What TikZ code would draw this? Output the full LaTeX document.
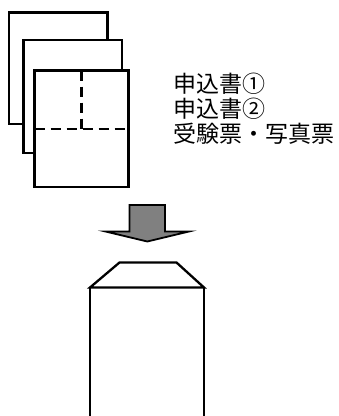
\documentclass[tikz,border=0pt]{standalone}
\usepackage{fontspec}
\newfontfamily\cjk{Noto Sans CJK JP}
\usepackage{tikz}
\usetikzlibrary{
    calc,
    positioning
}

\begin{document}
\begin{tikzpicture}[x=1pt, y=-1pt, line width=2.3pt,
    sheet/.style={draw, fill=white},
    fold/.style={dash pattern=on 10pt off 6pt},
    label/.style={anchor=west, inner sep=0pt, font=\cjk\fontsize{23}{25}\selectfont}]
    \useasboundingbox (0, 0) rectangle (339, 416);

    % three sheets
    \draw[sheet] (9, 12.5) rectangle (107.5, 124);
    \draw[sheet] (23.5, 40) rectangle (122, 153);
    \draw[sheet] (34.5, 70.5) rectangle (128.5, 187);
    \coordinate (vt) at (81.5, 70.5);
    \coordinate (mid) at (81.5, 129);
    \coordinate (hl) at (34.5, 129);
    \coordinate (hr) at (128.5, 129);
    \draw[fold] (vt) -- (mid);
    \draw[fold] (hl) -- (hr);

    \node[label] (l1) at (172, 84) {申込書①};
    \node[label] (l2) at (172, 109) {申込書②};
    \node[label] (l3) at (172, 134) {受験票・写真票};

    % arrow
    \draw[fill=gray, line width=1.8pt, line join=miter]
        (129.5, 205) -- (165, 205) -- (165, 231.5) -- (189, 231.5)
        -- (147.3, 241.5) -- (105.5, 231.5) -- (129.5, 231.5) -- cycle;

    % envelope
    \coordinate (fl) at (119.5, 262.5);
    \coordinate (fr) at (176.5, 262.5);
    \coordinate (bl) at (90, 287.5);
    \coordinate (br) at (204, 287.5);
    \draw[line join=miter] (bl) -- (fl) -- (fr) -- (br) -- cycle;
    \draw (bl) -- (90, 416);
    \draw (br) -- (204, 416);
\end{tikzpicture}
\end{document}
